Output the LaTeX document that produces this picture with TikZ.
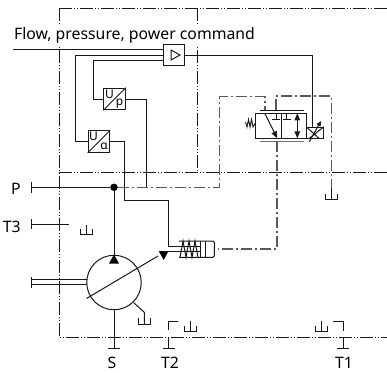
\documentclass[tikz,border=0pt]{standalone}
\usepackage{fontspec}
\setmainfont{Noto Sans}
\usetikzlibrary{arrows.meta, positioning}
\tikzstyle{pipe} = [line width=1pt, draw=black!90]
\tikzstyle{pilot} = [line width=1.1pt, draw=black!65, dash pattern=on 11pt off 3pt on 2pt off 3pt]
\tikzstyle{frame} = [line width=0.9pt, draw=black!90, dash pattern=on 13pt off 2pt on 1pt off 2pt on 1pt off 2pt]
\tikzstyle{converter} = [draw=black!90, line width=1pt, minimum size=21.5pt, inner sep=0]
\tikzstyle{port} = [font=\fontsize{15.8}{17}\selectfont, inner sep=0]
\tikzstyle{small} = [font=\fontsize{12}{13}\selectfont, inner sep=0]

\begin{document}
\begin{tikzpicture}[x=1pt, y=-1pt]
	\useasboundingbox (0, 0) rectangle (387, 372);

	% housing frame
	\coordinate (FrameA) at (59, 8);
	\coordinate (FrameB) at (387, 8);
	\coordinate (FrameC) at (197, 8);
	\coordinate (FrameD) at (197, 172.5);
	\coordinate (FrameE) at (59, 172.5);
	\coordinate (FrameF) at (387, 172.5);
	\coordinate (FrameG) at (59, 337);
	\coordinate (FrameH) at (387, 337);
	\draw [frame] (FrameA) -- (FrameB);
	\draw [frame] (FrameC) -- (FrameD);
	\draw [frame] (FrameE) -- (FrameF);
	\draw [frame] (FrameA) -- (FrameG) -- (FrameH);

	\node (Command) [port, fill=white, inner ysep=3pt] at (134.5, 35.5) {Flow, pressure, power command};

	% amplifier
	\node (Amp) [converter] at (174, 55) {};
	\coordinate (AmpA) at (171, 50);
	\coordinate (AmpB) at (180, 55);
	\coordinate (AmpC) at (171, 60);
	\draw [pipe] (AmpA) -- (AmpB) -- (AmpC) -- cycle;
	\coordinate (CommandIn) at (13, 49.5);
	\coordinate (CommandEnd) at (163.25, 49.5);
	\draw [pipe] (CommandIn) -- (CommandEnd);

	% pressure sensor
	\node (SensorP) [converter] at (114.5, 99) {};
	\draw [pipe] (SensorP.south west) -- (SensorP.north east);
	\node (SensorPU) [small] at (109.5, 94) {U};
	\node (SensorPp) [small] at (119.5, 103.5) {p};
	\coordinate (AmpP) at (163.25, 60);
	\coordinate (SensorPUp) at (93.5, 60);
	\coordinate (SensorPIn) at (93.5, 99);
	\draw [pipe] (AmpP) -- (SensorPUp) -- (SensorPIn) -- (SensorP);
	\coordinate (SensorPOut) at (146.5, 99);

	% angle sensor
	\node (SensorA) [converter] at (99, 141.5) {};
	\draw [pipe] (SensorA.south west) -- (SensorA.north east);
	\node (SensorAU) [small] at (93.5, 136.5) {U};
	\node (SensorAa) [small] at (104, 146.5) {α};
	\coordinate (AmpA2) at (163.25, 55);
	\coordinate (SensorAUp) at (75.5, 55);
	\coordinate (SensorAIn) at (75.5, 141.5);
	\draw [pipe] (AmpA2) -- (SensorAUp) -- (SensorAIn) -- (SensorA);

	% pump
	\node (Pump) [circle, draw=black!90, line width=1pt, minimum size=54.5pt, inner sep=0] at (114, 282.5) {};
	\node (Junction) [circle, fill=black, minimum size=7.5pt, inner sep=0] at (114, 187.3) {};
	\coordinate (PumpTip) at (114, 254.5);
	\coordinate (PumpTipA) at (109, 263.5);
	\coordinate (PumpTipB) at (119, 263.5);
	\draw [pipe] (Junction) -- (PumpTip);
	\fill [black] (PumpTip) -- (PumpTipA) -- (PumpTipB) -- cycle;
	\coordinate (PTick) at (31.5, 187.3);
	\coordinate (PTickA) at (31.5, 182);
	\coordinate (PTickB) at (31.5, 192.5);
	\draw [pipe] (PTickA) -- (PTickB);
	\draw [pipe] (PTick) -- (Junction);
	\node (P) [port] at (16, 189) {P};
	\coordinate (SensorPEnd) at (146.5, 187.3);
	\draw [pipe] (SensorP) -- (SensorPOut) -- (SensorPEnd);

	% swivel angle line
	\coordinate (SensorAOut) at (124, 141.5);
	\coordinate (SensorADown) at (124, 200.3);
	\coordinate (SensorARight) at (168.7, 200.3);
	\coordinate (SensorAEnd) at (168.7, 247);
	\draw [pipe] (SensorA) -- (SensorAOut) -- (SensorADown) -- (SensorARight) -- (SensorAEnd);
	\coordinate (SwashA) at (86.5, 298.5);
	\coordinate (SwashB) at (158, 256);
	\draw [pipe] (SwashA) -- (SwashB);
	\coordinate (ArrowA) at (158.7, 251);
	\coordinate (ArrowB) at (168.5, 251);
	\coordinate (ArrowC) at (163.7, 260);
	\fill [black] (ArrowA) -- (ArrowB) -- (ArrowC) -- cycle;

	% stroke cylinder
	\coordinate (RodA) at (168.7, 246.5);
	\coordinate (RodB) at (200, 246.5);
	\coordinate (RodC) at (163.7, 251);
	\coordinate (RodD) at (200, 251);
	\draw [pipe] (RodA) -- (RodB);
	\draw [pipe] (RodC) -- (RodD);
	\coordinate (CylA) at (179, 241);
	\coordinate (CylB) at (214.3, 241);
	\coordinate (CylC) at (214.3, 257.3);
	\coordinate (CylD) at (179, 257.3);
	\draw [pipe, rounded corners=1.5pt] (CylA) -- (CylB) -- (CylC) -- (CylD);
	\coordinate (WallA) at (200, 241);
	\coordinate (WallB) at (200, 257.3);
	\coordinate (WallC) at (205, 241);
	\coordinate (WallD) at (205, 257.3);
	\draw [pipe] (WallA) -- (WallB);
	\draw [pipe] (WallC) -- (WallD);
	\draw [pipe] (180, 257.3) -- (183, 241) -- (186, 257.3) -- (189, 241) -- (192, 257.3) -- (195, 241) -- (198, 257.3);

	% valve
	\node (ValveL) [draw=black!90, line width=1pt, minimum width=25.6pt, minimum height=25pt, inner sep=0] at (268.5, 125.8) {};
	\node (ValveR) [draw=black!90, line width=1pt, minimum width=25.4pt, minimum height=25pt, inner sep=0] at (294, 125.8) {};
	\node (Coil) [draw=black!90, line width=1pt, minimum width=16.6pt, minimum height=11pt, inner sep=0] at (315, 132.8) {};
	\coordinate (BarTopA) at (260, 110);
	\coordinate (BarTopB) at (304, 110);
	\coordinate (BarBotA) at (260, 141.3);
	\coordinate (BarBotB) at (304, 141.3);
	\draw [pipe] (BarTopA) -- (BarTopB);
	\draw [pipe, line width=1.3pt, draw=black!55] (BarBotA) -- (BarBotB);
	\coordinate (FlowA) at (264.7, 113.3);
	\coordinate (FlowB) at (277.3, 138.3);
	\draw [pipe, -{Triangle[length=7pt, width=5.5pt]}] (FlowA) -- (FlowB);
	\coordinate (FlowC) at (297.3, 113.3);
	\coordinate (FlowD) at (297.3, 138.3);
	\draw [pipe, {Triangle[length=7pt, width=5.5pt]}-{Triangle[length=7pt, width=5.5pt]}] (FlowC) -- (FlowD);
	\draw [pipe] (276, 113.3) -- (276, 119.3) (272, 119.3) -- (280, 119.3);
	\draw [pipe] (286.7, 113.3) -- (286.7, 119.3) (282.7, 119.3) -- (290.7, 119.3);
	\draw [pipe, line width=0.9pt] (245.5, 122) -- (247, 127) -- (248.5, 119.5) -- (250, 127) -- (251.5, 119.5) -- (253, 127) -- (255.7, 122.5);
	\draw [pipe] (Coil.north west) -- (319, 138.3) (Coil.north east) -- (309.3, 138.3);
	\coordinate (CoilA) at (309.3, 141.7);
	\coordinate (CoilB) at (321, 121);
	\draw [pipe, -{Triangle[length=5pt, width=4.5pt]}] (CoilA) -- (CoilB);
	\coordinate (AmpOut) at (312.7, 55);
	\coordinate (CoilIn) at (312.7, 127.3);
	\draw [pipe] (Amp.east) -- (AmpOut) -- (CoilIn);

	% pilot lines
	\coordinate (PilotA) at (118, 187.3);
	\coordinate (PilotB) at (219.3, 187.3);
	\coordinate (PilotC) at (219.3, 96.5);
	\coordinate (PilotD) at (265, 96.5);
	\coordinate (PilotE) at (265, 110);
	\draw [pilot] (PilotA) -- (PilotB) -- (PilotC) -- (PilotD) -- (PilotE);
	\coordinate (DrainA) at (276, 110);
	\coordinate (DrainB) at (276, 96);
	\coordinate (DrainC) at (331.3, 96);
	\coordinate (DrainD) at (331.3, 188);
	\coordinate (DrainE) at (331.3, 199.3);
	\draw [pilot] (DrainA) -- (DrainB) -- (DrainC) -- (DrainD);
	\draw [pipe] (DrainD) -- (DrainE);
	\coordinate (StrokeA) at (277, 141.3);
	\coordinate (StrokeB) at (277, 249);
	\coordinate (StrokeC) at (218, 249);
	\draw [pilot] (StrokeA) -- (StrokeB) -- (StrokeC);
	\coordinate (TankA) at (325.7, 193.5);
	\coordinate (TankB) at (325.7, 199.3);
	\coordinate (TankC) at (337.3, 199.3);
	\coordinate (TankD) at (337.3, 193.5);
	\draw [pipe] (TankA) -- (TankB) -- (TankC) -- (TankD);

	% port T3
	\node (T3) [port] at (11.7, 227) {T3};
	\coordinate (T3A) at (31.5, 219);
	\coordinate (T3B) at (31.5, 229);
	\coordinate (T3C) at (31.5, 224);
	\coordinate (T3D) at (69, 224);
	\draw [pipe] (T3A) -- (T3B);
	\draw [pipe] (T3C) -- (T3D);
	\draw [pipe] (80.5, 229) -- (80.5, 234.3) -- (92, 234.3) -- (92, 229) (86, 225) -- (86, 234.3);

	% case line
	\coordinate (CaseA) at (31.5, 279.3);
	\coordinate (CaseB) at (31.5, 284.7);
	\coordinate (CaseC) at (86.9, 279.3);
	\coordinate (CaseD) at (86.9, 284.7);
	\coordinate (CaseE) at (31.5, 277);
	\coordinate (CaseF) at (31.5, 287.5);
	\draw [pipe] (CaseA) -- (CaseC);
	\draw [pipe] (CaseB) -- (CaseD);
	\draw [pipe] (CaseE) -- (CaseF);

	% suction
	\coordinate (SBar) at (114, 348.3);
	\coordinate (SBarA) at (108, 348.3);
	\coordinate (SBarB) at (120, 348.3);
	\draw [pipe] (Pump) -- (SBar);
	\draw [pipe] (SBarA) -- (SBarB);
	\node (S) [port] at (112, 363) {S};

	% pump drain
	\coordinate (LeakA) at (133.5, 302.5);
	\coordinate (LeakB) at (144.3, 312.3);
	\coordinate (LeakC) at (144.3, 324);
	\draw [pipe] (LeakA) -- (LeakB) -- (LeakC);
	\draw [pipe] (138.7, 318) -- (138.7, 324) -- (150, 324) -- (150, 318);

	% port T2
	\coordinate (T2A) at (168.7, 348.3);
	\coordinate (T2B) at (168.7, 337);
	\coordinate (T2C) at (168.7, 330);
	\coordinate (T2D) at (168.7, 321);
	\coordinate (T2E) at (178.3, 321);
	\draw [pipe] (T2A) -- (T2B);
	\draw [pipe] (T2C) -- (T2D) -- (T2E);
	\draw [pipe] (163, 348.3) -- (174.5, 348.3);
	\draw [pipe] (184.3, 326) -- (184.3, 331.7) -- (196.5, 331.7) -- (196.5, 326) (190.4, 321) -- (190.4, 331.7);
	\node (T2) [port] at (170, 363) {T2};

	% port T1
	\coordinate (T1A) at (343, 348.3);
	\coordinate (T1B) at (343, 337);
	\coordinate (T1C) at (343, 331);
	\coordinate (T1D) at (343, 321);
	\coordinate (T1E) at (333.3, 321);
	\draw [pipe] (T1A) -- (T1B);
	\draw [pipe] (T1C) -- (T1D) -- (T1E);
	\draw [pipe] (337.3, 348.3) -- (348.7, 348.3);
	\draw [pipe] (315.3, 326) -- (315.3, 331.7) -- (327, 331.7) -- (327, 326) (321, 321) -- (321, 331.7);
	\node (T1) [port] at (344, 363) {T1};
\end{tikzpicture}
\end{document}
